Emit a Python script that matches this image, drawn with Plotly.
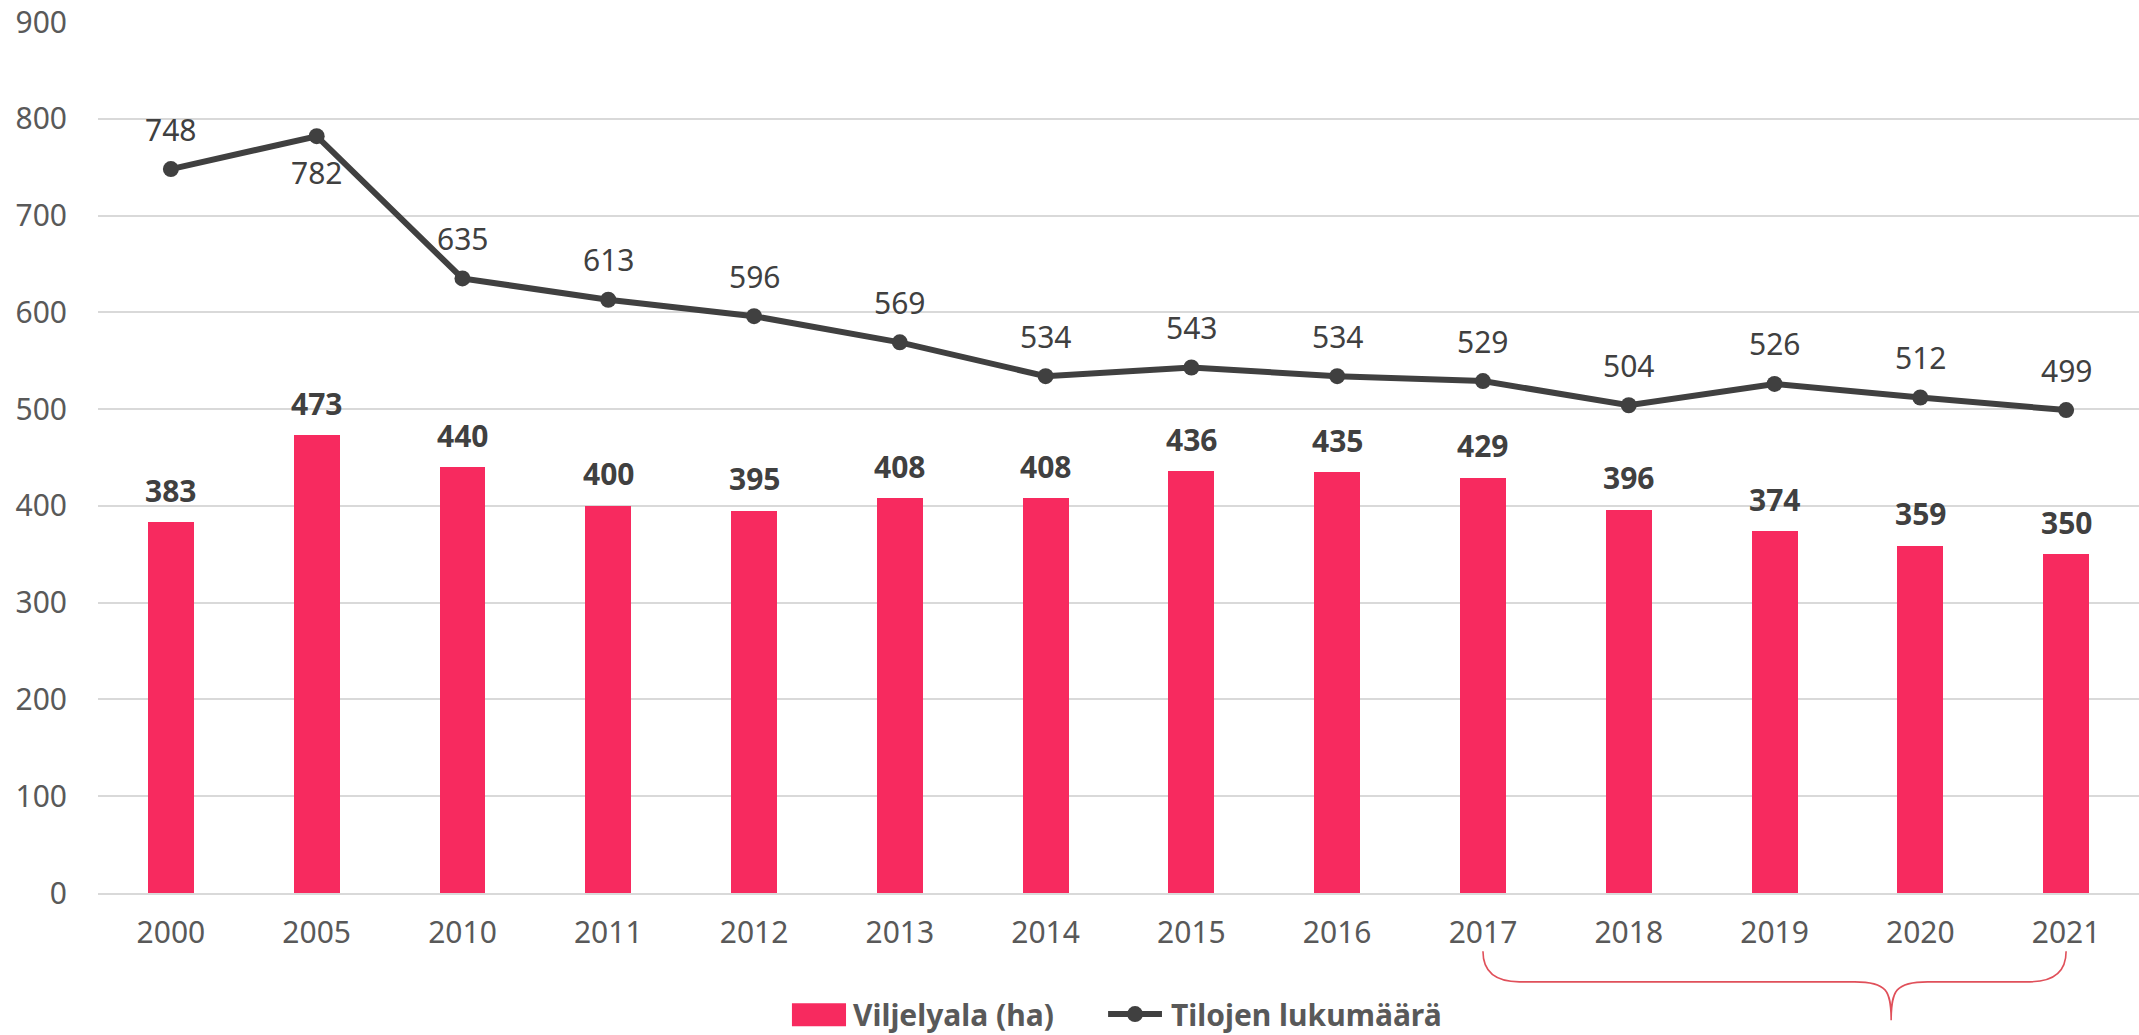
import plotly.graph_objects as go

years = ["2000", "2005", "2010", "2011", "2012", "2013", "2014", "2015",
         "2016", "2017", "2018", "2019", "2020", "2021"]
viljelyala = [383, 473, 440, 400, 395, 408, 408, 436, 435, 429, 396, 374, 359, 350]
tilat = [748, 782, 635, 613, 596, 569, 534, 543, 534, 529, 504, 526, 512, 499]
y_ticks = [0, 100, 200, 300, 400, 500, 600, 700, 800, 900]

bar_name = "Viljelyala (ha)"
line_name = "Tilojen lukumäärä"

BAR_COLOR = "#F72A5F"
LINE_COLOR = "#404040"
TICK_COLOR = "#595959"
GRID_COLOR = "#D9D9D9"
FONT = "Noto Sans, Open Sans, sans-serif"
FS = 30

idx = list(range(len(years)))

fig = go.Figure()
fig.add_trace(go.Bar(
    x=idx, y=viljelyala, name=bar_name,
    marker=dict(color=BAR_COLOR, line=dict(width=0)),
    width=0.315, showlegend=False,
))
fig.add_trace(go.Scatter(
    x=idx, y=tilat, name=line_name, mode="lines+markers",
    line=dict(color=LINE_COLOR, width=6),
    marker=dict(color=LINE_COLOR, size=16),
    showlegend=False,
))

annotations = []
for i, v in zip(idx, viljelyala):
    annotations.append(dict(
        x=i, y=v, xref="x", yref="y", text="<b>%d</b>" % v,
        showarrow=False, yshift=32,
        font=dict(family=FONT, size=FS, color=LINE_COLOR),
    ))
for i, v in zip(idx, tilat):
    below = (i == 1)  # 2005 label sits under its point
    annotations.append(dict(
        x=i, y=v, xref="x", yref="y", text=str(v),
        showarrow=False, yshift=-36 if below else 40,
        font=dict(family=FONT, size=FS, color=LINE_COLOR),
    ))

# custom legend (paper coordinates)
LEG_Y = -0.139
LFS = 30
annotations.append(dict(x=0.369, y=LEG_Y, xref="paper", yref="paper",
                        xanchor="left", yanchor="middle", showarrow=False,
                        text="<b>%s</b>" % bar_name,
                        font=dict(family=FONT, size=LFS, color=TICK_COLOR)))
annotations.append(dict(x=0.5247, y=LEG_Y, xref="paper", yref="paper",
                        xanchor="left", yanchor="middle", showarrow=False,
                        text="<b>%s</b>" % line_name,
                        font=dict(family=FONT, size=LFS, color=TICK_COLOR)))

shapes = [
    dict(type="rect", xref="paper", yref="paper",
         x0=0.340, x1=0.3665, y0=LEG_Y + 0.0124, y1=LEG_Y - 0.014,
         fillcolor=BAR_COLOR, line=dict(width=0)),
    dict(type="line", xref="paper", yref="paper",
         x0=0.4949, x1=0.5213, y0=LEG_Y, y1=LEG_Y,
         line=dict(color=LINE_COLOR, width=6)),
    dict(type="circle", xref="paper", yref="paper",
         x0=0.5081 - 0.0039, x1=0.5081 + 0.0039, y0=LEG_Y - 0.0092, y1=LEG_Y + 0.0092,
         fillcolor=LINE_COLOR, line=dict(width=0)),
]

# curly brace under 2017-2021
i0 = years.index("2017")
i1 = years.index("2021")
tip = 11.8
yt, yh, yb = -0.067, -0.102, -0.146
path = (
    f"M {i0},{yt} C {i0},{yh+0.02} {i0+0.03},{yh} {i0+0.25},{yh} "
    f"L {tip-0.25},{yh} C {tip-0.03},{yh} {tip},{yh-0.01} {tip},{yb} "
    f"C {tip},{yh-0.01} {tip+0.03},{yh} {tip+0.25},{yh} "
    f"L {i1-0.25},{yh} C {i1-0.03},{yh} {i1},{yh+0.02} {i1},{yt}"
)
shapes.append(dict(type="path", path=path, xref="x", yref="paper",
                   line=dict(color="#E0505A", width=1.6)))

fig.update_layout(
    width=2139, height=1035,
    margin=dict(l=98, r=0, t=22, b=142),
    paper_bgcolor="white", plot_bgcolor="white",
    font=dict(family=FONT, size=FS, color=TICK_COLOR),
    showlegend=False,
    bargap=0.0,
    annotations=annotations,
    shapes=shapes,
    xaxis=dict(
        range=[-0.5, 13.5], tickvals=idx, ticktext=years,
        showgrid=False, zeroline=False, showline=True, linecolor=GRID_COLOR, linewidth=2,
        ticks="", tickfont=dict(family=FONT, size=FS, color=TICK_COLOR),
        ticklabelstandoff=12, fixedrange=True, automargin=False,
    ),
    yaxis=dict(
        range=[0, 900], tickvals=y_ticks,
        showgrid=True, gridcolor=GRID_COLOR, gridwidth=2,
        zeroline=False, showline=False, ticks="",
        tickfont=dict(family=FONT, size=FS, color=TICK_COLOR),
        ticklabelstandoff=30, automargin=False,
    ),
)

fig.write_html(
    "out.html",
    config={"displayModeBar": False},
    post_script="document.body.style.margin='0';document.body.style.overflow='hidden';",
)
